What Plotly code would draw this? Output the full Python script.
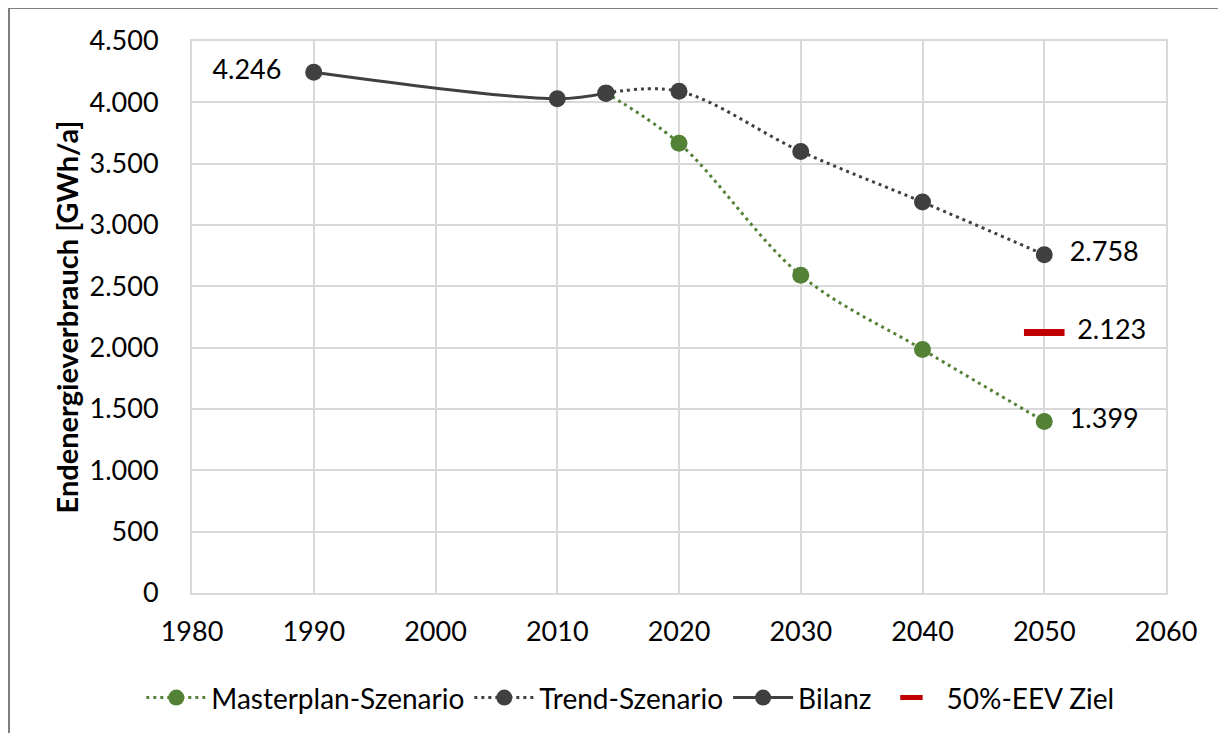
import plotly.graph_objects as go

# Data
bilanz_years = [1990, 2010, 2014]
bilanz_vals = [4246, 4030, 4075]

trend_years = [2014, 2020, 2030, 2040, 2050]
trend_vals = [4075, 4090, 3600, 3187, 2758]

master_years = [2014, 2020, 2030, 2040, 2050]
master_vals = [4075, 3667, 2590, 1985, 1399]

ziel_years = [2050]
ziel_vals = [2123]

x_ticks = list(range(1980, 2061, 10))
y_ticks = list(range(0, 4501, 500))
y_tick_labels = [f"{v:,}".replace(",", ".") for v in y_ticks]


def de(v):
    return f"{v:,}".replace(",", ".")


DARK = "#404040"
GREEN = "#538135"
RED = "#C00000"
FONT = "Lato, 'Open Sans', sans-serif"
FS = 27
DOTS = "3px,4px"

fig = go.Figure()

fig.add_trace(go.Scatter(
    x=master_years, y=master_vals, name="Masterplan-Szenario",
    mode="lines+markers+text", line=dict(color=GREEN, width=3, dash=DOTS, shape="spline"),
    marker=dict(size=17, color=GREEN),
    text=[""] * (len(master_vals) - 1) + ["  " + de(master_vals[-1])],
    textposition="middle right",
))
fig.add_trace(go.Scatter(
    x=trend_years, y=trend_vals, name="Trend-Szenario",
    mode="lines+markers+text", line=dict(color=DARK, width=3, dash=DOTS, shape="spline"),
    marker=dict(size=17, color=DARK),
    text=[""] * (len(trend_vals) - 1) + ["  " + de(trend_vals[-1])],
    textposition="middle right",
))
fig.add_trace(go.Scatter(
    x=bilanz_years, y=bilanz_vals, name="Bilanz",
    mode="lines+markers+text", line=dict(color=DARK, width=3, shape="spline"),
    marker=dict(size=17, color=DARK),
    text=[de(bilanz_vals[0]) + "   "] + [""] * (len(bilanz_vals) - 1),
    textposition="middle left",
))
fig.add_trace(go.Scatter(
    x=ziel_years, y=ziel_vals, name="50%-EEV Ziel",
    mode="markers+text",
    marker=dict(symbol="line-ew", size=29, line=dict(color=RED, width=7)),
    text=["  " + de(v) for v in ziel_vals],
    textposition="middle right",
))

fig.update_traces(textfont=dict(size=FS, color="#000000", family=FONT))

# outer frame (only left/top edges visible in the picture)
fig.add_shape(type="rect", xref="paper", yref="paper",
              x0=(1 - 184) / 974, x1=(1240 - 184) / 974,
              y0=(585 - 760) / 552, y1=(585 - 0) / 552,
              line=dict(color="#7f7f7f", width=2), layer="below")

fig.update_layout(
    width=1226, height=733,
    margin=dict(l=184, r=68, t=33, b=148),
    paper_bgcolor="white", plot_bgcolor="white",
    font=dict(family=FONT, size=FS, color="#000000"),
    showlegend=True,
    legend=dict(orientation="h", x=0.45, xanchor="center", y=-0.19, yanchor="middle",
                font=dict(size=28, family=FONT), itemwidth=60, tracegroupgap=0),
    xaxis=dict(range=[1980, 2060], tickvals=x_ticks, showgrid=True, gridcolor="#d9d9d9",
               gridwidth=2, zeroline=False, showline=True, linecolor="#d9d9d9", linewidth=2,
               mirror=True, ticks="", tickfont=dict(size=FS), ticklabelstandoff=14,
               automargin=False),
    yaxis=dict(range=[0, 4500], tickvals=y_ticks, ticktext=y_tick_labels, showgrid=True,
               gridcolor="#d9d9d9", gridwidth=2, zeroline=False, showline=True,
               linecolor="#d9d9d9", linewidth=2, mirror=True, ticks="",
               tickfont=dict(size=FS), ticklabelstandoff=26, automargin=False,
               title=dict(text="<b>Endenergieverbrauch [GWh/a]</b>", font=dict(size=29),
                          standoff=2)),
)

fig.write_html("out.html")
